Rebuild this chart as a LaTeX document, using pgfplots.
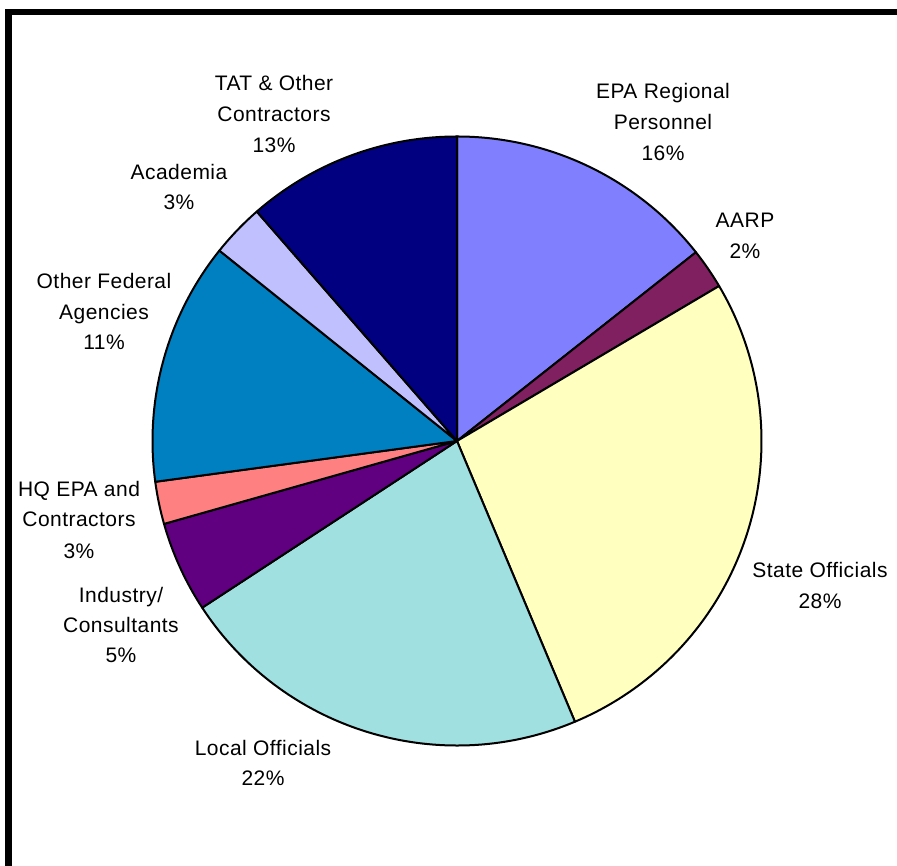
\documentclass[border=0pt]{standalone}
\usepackage{pgfplots}
\pgfplotsset{compat=1.18}
\usepackage{fontspec}
\setmainfont{Liberation Sans}[LetterSpace=2.2]

\definecolor{cEPA}{RGB}{128,128,255}
\definecolor{cAARP}{RGB}{128,32,96}
\definecolor{cState}{RGB}{255,255,192}
\definecolor{cLocal}{RGB}{160,224,224}
\definecolor{cInd}{RGB}{96,0,128}
\definecolor{cHQ}{RGB}{255,128,128}
\definecolor{cFed}{RGB}{0,128,192}
\definecolor{cAcad}{RGB}{192,192,255}
\definecolor{cTAT}{RGB}{0,0,128}

% share of each slice (percent), clockwise from 12 o'clock
\def\piedata{14.36/cEPA, 2.14/cAARP, 27.17/cState, 22.11/cLocal,
  4.83/cInd, 2.25/cHQ, 12.89/cFed, 2.83/cAcad, 11.42/cTAT}

\newcommand{\lbl}[3]{\node[anchor=base,font=\fontsize{21}{25}\selectfont] at (axis cs:#1,#2) {#3};}

\begin{document}
\begin{tikzpicture}
  \begin{axis}[
    hide axis,
    x=1pt,y=1pt,
    xmin=0,xmax=897,ymin=0,ymax=866,
    clip=false]

    \path[fill=white] (axis cs:0,0) rectangle (axis cs:897,866);

    % pie
    \xdef\curang{90}
    \foreach \v/\c in \piedata {
      \pgfmathsetmacro\nextang{\curang-3.6*\v}
      \edef\temp{\noexpand\filldraw[fill=\c,draw=black,line width=2pt,line join=round]
        (axis cs:457,425) -- ++(\curang:304.5pt)
        arc[start angle=\curang,end angle=\nextang,radius=304.5pt] -- cycle;}
      \temp
      \xdef\curang{\nextang}
    }

    % labels
    \lbl{663}{767}{EPA Regional}
    \lbl{663}{736}{Personnel}
    \lbl{663}{705}{16\%}
    \lbl{745}{638}{AARP}
    \lbl{745}{607}{2\%}
    \lbl{820}{288}{State Officials}
    \lbl{820}{257}{28\%}
    \lbl{263}{110}{Local Officials}
    \lbl{263}{80}{22\%}
    \lbl{121}{263}{Industry/}
    \lbl{121}{233}{Consultants}
    \lbl{121}{203}{5\%}
    \lbl{79}{369}{HQ EPA and}
    \lbl{79}{339}{Contractors}
    \lbl{79}{307}{3\%}
    \lbl{104}{577}{Other Federal}
    \lbl{104}{546}{Agencies}
    \lbl{104}{516}{11\%}
    \lbl{179}{686}{Academia}
    \lbl{179}{656}{3\%}
    \lbl{274}{775}{TAT \& Other}
    \lbl{274}{744}{Contractors}
    \lbl{274}{713}{13\%}

    % frame
    \fill[black] (axis cs:5,0) rectangle (axis cs:12,857);
    \fill[black] (axis cs:5,851) rectangle (axis cs:897,857);
  \end{axis}
\end{tikzpicture}
\end{document}
